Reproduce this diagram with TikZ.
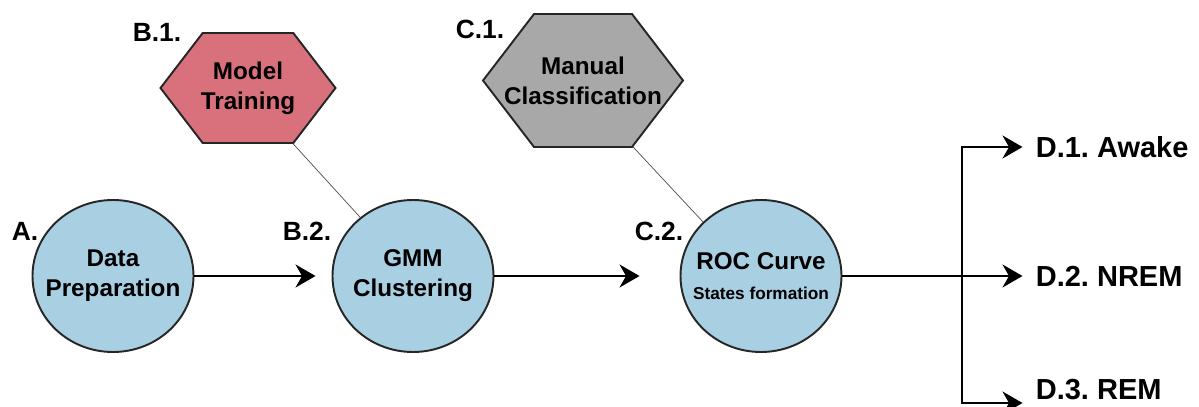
\documentclass[tikz,border=0pt]{standalone}
\usepackage{xcolor}
\usepackage{fontspec}
\setmainfont{Liberation Sans}
\usepackage{tikz}
\usetikzlibrary{shapes.geometric, shapes.symbols, arrows.meta, positioning}
\definecolor{stageblue}{HTML}{A9CFE2}
\definecolor{trainred}{HTML}{D8717B}
\definecolor{manualgray}{HTML}{A8A8A8}
\tikzstyle{stage} = [ellipse, minimum width=3.22cm, minimum height=3.04cm, inner sep=0pt, draw=black!85, line width=1.1pt, fill=stageblue]
\tikzstyle{hexa} = [signal, signal to=east and west, signal pointer angle=105, inner sep=0pt, draw=black!85, line width=1.1pt]
\tikzstyle{inside} = [align=center, inner sep=0pt, font=\fontsize{13.8}{17}\selectfont\bfseries]
\tikzstyle{tag} = [inner sep=0pt, font=\fontsize{15}{18}\selectfont\bfseries]
\tikzstyle{outcome} = [inner xsep=0.26cm, inner ysep=0pt, font=\fontsize{16.5}{19}\selectfont\bfseries]
\tikzstyle{arrow} = [line width=1pt, -{Stealth[length=4mm,width=4.6mm,inset=1.3mm]}]
\tikzstyle{link} = [line width=0.4pt, draw=black!70]
\frenchspacing

\begin{document}
\begin{tikzpicture}[node distance=6cm]
        \useasboundingbox (0,-2.62) rectangle (23.98,5.52);
        \node (prep) [stage, label={[inside]center:Data\\Preparation}] at (2.26,0) {};
        \node (gmm) [stage, right of=prep, label={[inside]center:GMM\\Clustering}] {};
        \node (roc) [stage, right of=gmm, xshift=0.96cm, label={[inside]center:{ROC Curve\\{\fontsize{9.8}{12}\selectfont States formation}}}] {};
        \node (train) [hexa, fill=trainred, minimum width=3.5cm, minimum height=2.2cm, above of=gmm, node distance=3.76cm, xshift=-3.3cm, label={[inside]center:Model\\Training}] {};
        \node (manual) [hexa, fill=manualgray, minimum width=4cm, minimum height=2.66cm, above of=roc, node distance=3.91cm, xshift=-3.56cm, label={[inside]center:Manual\\Classification}] {};

        \node (tagA) [tag, left of=prep, node distance=1.76cm, yshift=0.9cm] {A.};
        \node (tagB2) [tag, left of=gmm, node distance=2.12cm, yshift=0.9cm] {B.2.};
        \node (tagC2) [tag, left of=roc, node distance=2.04cm, yshift=0.9cm] {C.2.};
        \node (tagB1) [tag, left of=train, node distance=1.82cm, yshift=1.12cm] {B.1.};
        \node (tagC1) [tag, left of=manual, node distance=2.06cm, yshift=1.02cm] {C.1.};

        \node (awake) [outcome, right of=roc, node distance=5.23cm, yshift=2.58cm, anchor=west] {D.1. Awake};
        \node (nrem) [outcome, right of=roc, node distance=5.23cm, anchor=west] {D.2. NREM};
        \node (rem) [outcome, right of=roc, node distance=5.23cm, yshift=-2.27cm, anchor=west] {D.3. REM};
        \coordinate [right of=roc, node distance=4.02cm] (split);

        \draw [link] (train.-51) -- (gmm.132);
        \draw [link] (manual.-53) -- (roc.137);

        \draw [arrow, shorten >=0.32cm] (prep) -- (gmm);
        \draw [arrow, shorten >=0.8cm] (gmm) -- (roc);
        \draw [arrow] (roc) -- (nrem);
        \draw [arrow] (split) |- (awake);
        \draw [arrow] (split) |- ([yshift=-0.27cm]rem.west);
    \end{tikzpicture}
\end{document}
